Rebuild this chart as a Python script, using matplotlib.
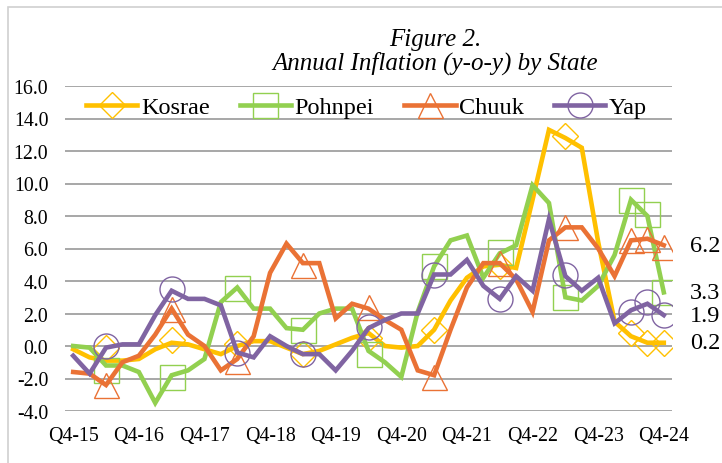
import matplotlib
matplotlib.use("Agg")
import matplotlib.pyplot as plt
from matplotlib.lines import Line2D
from matplotlib.patches import Rectangle

plt.rcParams['font.family'] = ['Liberation Serif', 'DejaVu Serif']

# quarters Q4-15 ... Q4-24
quarters = ['Q%d-%02d' % (q, y) for y in range(15, 25) for q in (1, 2, 3, 4)][3:]
tick_labels = ['Q4-15', 'Q4-16', 'Q4-17', 'Q4-18', 'Q4-19',
               'Q4-20', 'Q4-21', 'Q4-22', 'Q4-23', 'Q4-24']

kosrae = [-0.2, -0.7, -0.9, -0.9, -0.8, -0.2, 0.2, 0.1, -0.2, -0.5,
          0.0, 0.3, 0.3, -0.1, -0.5, -0.3, 0.1, 0.5, 0.8, 0.0,
          -0.1, 0.0, 1.0, 2.8, 4.2, 4.9, 5.0, 4.8, 9.0, 13.3,
          12.8, 12.2, 6.4, 1.5, 0.6, 0.2, 0.2]
pohnpei = [0.0, -0.1, -1.2, -1.2, -1.6, -3.5, -1.8, -1.5, -0.8, 2.7,
           3.6, 2.3, 2.3, 1.1, 1.0, 2.0, 2.3, 2.3, -0.3, -1.0,
           -1.9, 2.1, 4.9, 6.5, 6.8, 4.2, 5.7, 6.2, 9.9, 8.8,
           3.0, 2.8, 3.7, 5.6, 9.0, 8.0, 3.3]
chuuk = [-1.6, -1.7, -2.4, -1.0, -0.6, 0.7, 2.3, 0.7, 0.0, -1.5,
         -0.8, 0.6, 4.5, 6.3, 5.1, 5.1, 1.7, 2.6, 2.3, 1.6,
         1.0, -1.5, -1.8, 1.0, 3.6, 5.1, 5.1, 4.1, 2.1, 6.5,
         7.3, 7.3, 6.0, 4.3, 6.5, 6.6, 6.2]
yap = [-0.6, -1.7, -0.1, 0.1, 0.1, 1.9, 3.4, 2.9, 2.9, 2.5,
       -0.4, -0.7, 0.6, 0.0, -0.5, -0.5, -1.5, -0.3, 1.1, 1.6,
       2.0, 2.0, 4.4, 4.4, 5.3, 3.7, 2.9, 4.3, 3.4, 7.8,
       4.3, 3.4, 4.2, 1.4, 2.2, 2.6, 1.9]

# open markers (Q2 of each year plus the last quarters)
marker_q = ['Q2-16', 'Q2-17', 'Q2-18', 'Q2-19', 'Q2-20', 'Q2-21',
            'Q2-22', 'Q2-23', 'Q2-24', 'Q3-24', 'Q4-24']
kosrae_mk = [-0.1, 0.4, 0.1, -0.5, 0.5, 1.0, 4.9, 12.9, 0.8, 0.2, 0.2]
pohnpei_mk = [-1.5, -1.9, 3.6, 1.0, -0.5, 4.9, 5.8, 3.0, 9.0, 8.1, 3.3]
chuuk_mk = [-2.4, 2.3, -0.9, 5.0, 2.4, -1.9, 5.1, 7.3, 6.5, 6.6, 6.1]
yap_mk = [0.0, 3.5, -0.4, -0.5, 1.2, 4.4, 2.9, 4.4, 2.1, 2.7, 1.9]

states = ['Kosrae', 'Pohnpei', 'Chuuk', 'Yap']
colors = ['#FFC000', '#92D050', '#EA7235', '#8064A2']
markers = ['D', 's', '^', 'o']
msizes = [13, 18, 18, 18]

fig = plt.figure(figsize=(7.22, 4.64), dpi=100)
ax = fig.add_axes([65/722, 1 - 412/464, 607/722, 325/464])

x = list(range(len(quarters)))
mx = [quarters.index(q) for q in marker_q]
lines = [kosrae, pohnpei, chuuk, yap]
mks = [kosrae_mk, pohnpei_mk, chuuk_mk, yap_mk]

handles = []
for vals, mv, c, m, ms, name in zip(lines, mks, colors, markers, msizes, states):
    ax.plot(x, vals, color=c, lw=3.3, solid_joinstyle='miter', zorder=3)
    ax.plot(mx, mv, ls='none', marker=m, ms=ms, mfc='none', mec=c, mew=1.0, zorder=3)
    handles.append(Line2D([], [], color=c, lw=3.3, marker=m, ms=ms,
                          mfc='none', mec=c, mew=1.0))

ax.set_xlim(-0.5, len(quarters) - 0.5)
ax.set_ylim(-4, 16)
ax.set_yticks(range(-4, 17, 2))
ax.set_yticklabels(['%.1f' % v for v in range(-4, 17, 2)])
ax.set_xticks([quarters.index(t) for t in tick_labels])
ax.set_xticklabels(tick_labels)
ax.tick_params(length=0, labelsize=14.3)
ax.tick_params(axis='y', pad=12)
ax.tick_params(axis='x', pad=11)
ax.grid(axis='y', color='#A0A0A0', lw=1.3)
ax.set_axisbelow(True)
for s in ax.spines.values():
    s.set_visible(False)

# end value labels
for vals in lines:
    ax.text(len(quarters) + 0.6, vals[-1], '%.1f' % vals[-1], fontsize=17.5,
            ha='left', va='center')

ax.legend(handles, states, loc='center', bbox_to_anchor=(0.497, 0.935), ncol=4,
          frameon=False, fontsize=17.5, handlelength=2.1, handletextpad=0.15,
          columnspacing=1.25, borderpad=0)

fig.text(0.603, 1 - 46/464, 'Figure 2.', fontsize=18, style='italic',
         ha='center', va='baseline')
fig.text(0.603, 1 - 70/464, 'Annual Inflation (y-o-y) by State', fontsize=18,
         style='italic', ha='center', va='baseline')

fig.add_artist(Rectangle((8/722, -0.1), 1.0, 1.1 - 8/464, transform=fig.transFigure,
                         fill=False, edgecolor='#D0D0D0', lw=1.2))

fig.savefig('out.png', dpi=100)
